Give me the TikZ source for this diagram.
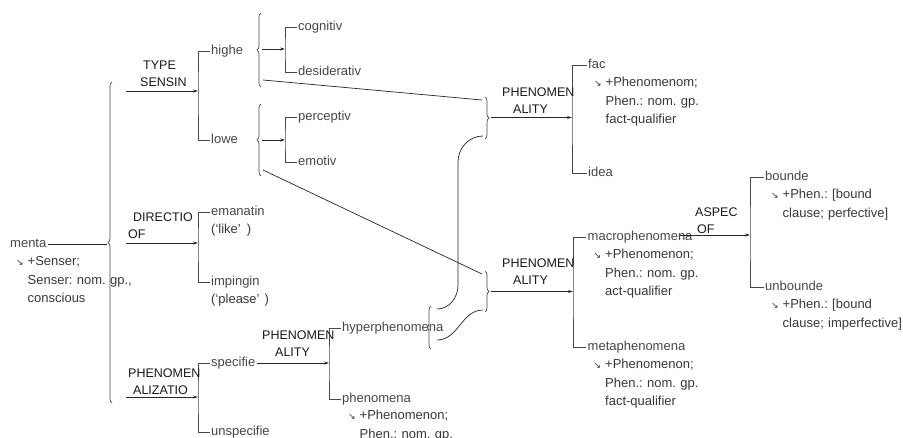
\documentclass[tikz,border=0pt]{standalone}
\usepackage{fontspec}
\setmainfont{Liberation Sans}
\newfontfamily\symf{DejaVu Sans}
\usetikzlibrary{arrows.meta, decorations.pathreplacing}
\frenchspacing
\newcommand{\dnarr}{\leavevmode\llap{{\symf\fontsize{9}{9}\selectfont ↘}\hspace{4pt}}}
\newcommand{\bodyfont}{\fontsize{13}{18.5}\selectfont}
\newcommand{\lblfont}{\fontsize{12.5}{17.5}\selectfont}

\begin{document}
\begin{tikzpicture}[
            x=1pt, y=-1pt,
            txt/.style={font=\bodyfont, text=black!72, inner sep=1.5pt, text height=9.5pt, text depth=3pt, anchor=west},
            feat/.style={font=\bodyfont, text=black!78, inner sep=0pt, text width=150pt, align=left, anchor=base west},
            lbl/.style={font=\lblfont, text=black!90, inner sep=0pt, text width=80pt, align=left, anchor=base west},
            brk/.style={draw=black!72, line width=0.9pt},
            ln/.style={draw=black!85, line width=0.7pt},
            arr/.style={ln, -{Stealth[length=5pt, width=3pt]}},
            brc/.style={draw=black!72, line width=0.7pt, decorate, decoration={brace, amplitude=4pt}},
        ]
            \useasboundingbox[fill=white] (0,0) rectangle (903,438);

            \coordinate (bigT) at (112,82);
            \coordinate (bigB) at (112,403);
            \coordinate (bigtip) at (107,244);
            \coordinate (ty) at (126,91);
            \coordinate (di) at (126,243);
            \coordinate (pz) at (126,397);
            \coordinate (sb1) at (198,91);
            \coordinate (sb2) at (198,243);
            \coordinate (sb3) at (198,397);

            \node[txt] (mental) at (8.5,244) {menta};
            \node[feat] (mentalf) at ([shift={(19pt,-21.8pt)}]mental.west) {\dnarr+Senser;\\Senser: nom. gp.,\\conscious};
            \draw[brc] (bigB) -- (bigT);
            \draw[ln] (mental.east) -- (bigtip);

            \node[txt] (higher) at (209.5,51) {highe};
            \node[txt] (lower) at (209.5,140) {lowe};
            \node[txt] (eman) at (209.5,212) {emanatin};
            \node[feat] (emanf) at ([shift={(1.5pt,-21.8pt)}]eman.west) {(‘like’\hspace{6pt})};
            \node[txt] (imping) at (209.5,282) {impingin};
            \node[feat] (impingf) at ([shift={(1.5pt,-21.8pt)}]imping.west) {(‘please’\hspace{5pt})};
            \node[txt] (spec) at (209.5,363) {specifie};
            \node[txt] (unspec) at (209.5,432) {unspecifie};

            \draw[brk] (higher.west) -| (sb1) |- (lower.west);
            \draw[brk] (eman.west) -| (sb2) |- (imping.west);
            \draw[brk] (spec.west) -| (sb3) |- (unspec.west);
            \draw[arr] (ty) -- (sb1);
            \draw[arr] (di) -- (sb2);
            \draw[arr] (pz) -- (sb3);
            \node[lbl] (tyl) at (140,69.3) {\hspace*{3pt}TYPE\\SENSIN};
            \node[lbl] (dil) at (128,221.3) {\hspace*{5pt}DIRECTIO\\OF};
            \node[lbl] (pzl) at (128,377.3) {PHENOMEN\\\hspace*{5pt}ALIZATIO};

            % sensing subtypes
            \coordinate (hbT) at (261,13);
            \coordinate (hbB) at (261,87);
            \coordinate (hbA) at (262,49);
            \coordinate (hbD) at (263,80);
            \coordinate (lbT) at (261,104);
            \coordinate (lbB) at (261,176);
            \coordinate (lbA) at (262,140);
            \coordinate (lbD) at (263,170);
            \coordinate (sb4) at (285,49);
            \coordinate (sb5) at (285,140);
            \draw[brc] (hbB) -- (hbT);
            \draw[brc] (lbB) -- (lbT);
            \node[txt] (cogn) at (296.5,27) {cognitiv};
            \node[txt] (desid) at (296.5,72) {desiderativ};
            \node[txt] (percep) at (296.5,117) {perceptiv};
            \node[txt] (emot) at (296.5,162) {emotiv};
            \draw[brk] (cogn.west) -| (sb4) |- (desid.west);
            \draw[brk] (percep.west) -| (sb5) |- (emot.west);
            \draw[arr] (hbA) -- (sb4);
            \draw[arr] (lbA) -- (sb5);

            % phenomenality
            \coordinate (sb9) at (329,363);
            \node[txt] (hyper) at (340.5,328) {hyperphenomena};
            \node[txt] (phen) at (340.5,399) {phenomena};
            \node[feat] (phenf) at ([shift={(19pt,-21pt)}]phen.west) {\dnarr+Phenomenon;\\Phen.: nom. gp.};
            \draw[brk] (hyper.west) -| (sb9) |- (phen.west);
            \draw[arr] (spec.east) -- (sb9);
            \node[lbl] (phl) at (262,339.3) {PHENOMEN\\\hspace*{13pt}ALITY};

            \coordinate (hyT) at (437,309);
            \coordinate (hyB) at (437,340);
            \draw[brc] (431,349) -- (431,306);

            \coordinate (ubT) at (482,100);
            \coordinate (ubB) at (483,136);
            \coordinate (uptip) at (491,117.5);
            \coordinate (rbT) at (482,274);
            \coordinate (rbB) at (483,310);
            \coordinate (lowtip) at (491,291.5);
            \draw[brc] (485,97) -- (485,139);
            \draw[brc] (485,271) -- (485,312);

            \draw[ln] (hbD) -- (ubT);
            \draw[ln] (lbD) -- (rbT);
            \draw[ln] (ubB) to[out=180, in=90] (458,162) -- (458,285) to[out=-90, in=0] (hyT);
            \draw[ln] (hyB) to[out=0, in=180] (rbB);

            \coordinate (sb6) at (572,117.5);
            \coordinate (sb7) at (573,291.5);
            \node[txt] (fact) at (586.5,65) {fac};
            \node[feat] (factf) at ([shift={(19pt,-21.8pt)}]fact.west) {\dnarr+Phenomenom;\\Phen.: nom. gp.\\fact-qualifier};
            \node[txt] (idea) at (586.5,173) {idea};
            \node[txt] (macro) at (586,237) {macrophenomena};
            \node[feat] (macrof) at ([shift={(19pt,-21.8pt)}]macro.west) {\dnarr+Phenomenon;\\Phen.: nom. gp.\\act-qualifier};
            \node[txt] (meta) at (586,347) {metaphenomena};
            \node[feat] (metaf) at ([shift={(19pt,-21.8pt)}]meta.west) {\dnarr+Phenomenon;\\Phen.: nom. gp.\\fact-qualifier};
            \draw[brk] (fact.west) -| (sb6) |- (idea.west);
            \draw[brk] (macro.west) -| (sb7) |- (meta.west);
            \draw[arr] (uptip) -- (sb6);
            \draw[arr] (lowtip) -- (sb7);
            \node[lbl] (ph1l) at (502,96.3) {PHENOMEN\\\hspace*{11pt}ALITY};
            \node[lbl] (ph2l) at (502,267.3) {PHENOMEN\\\hspace*{11pt}ALITY};

            % aspect
            \coordinate (asp) at (680,235);
            \coordinate (sb8) at (750,235);
            \node[txt] (bound) at (763.5,177) {bounde};
            \node[feat] (boundf) at ([shift={(19pt,-21.8pt)}]bound.west) {\dnarr+Phen.: [bound\\clause; perfective]};
            \node[txt] (unbound) at (763.5,287) {unbounde};
            \node[feat] (unboundf) at ([shift={(19pt,-21.8pt)}]unbound.west) {\dnarr+Phen.: [bound\\clause; imperfective]};
            \draw[brk] (bound.west) -| (sb8) |- (unbound.west);
            \draw[arr] (asp) -- (sb8);
            \node[lbl] (aspl) at (695,216.3) {ASPEC\\\hspace*{2pt}OF};
        \end{tikzpicture}
\end{document}
